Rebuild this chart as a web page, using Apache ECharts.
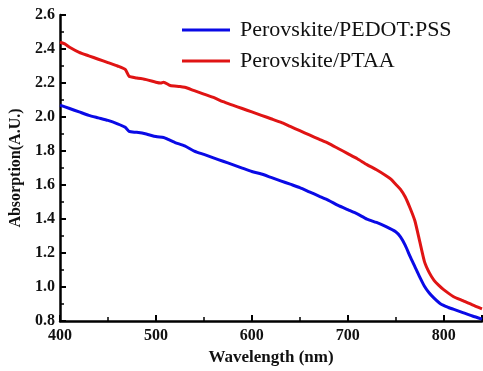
<!DOCTYPE html>
<html><head><meta charset="utf-8">
<script src="https://cdn.jsdelivr.net/npm/echarts@6/dist/echarts.min.js"></script>
<style>html,body{margin:0;padding:0;background:#fff}#c{width:483px;height:371px}</style>
</head><body><div id="c"></div>
<script>
const seriesNames = ['Perovskite/PEDOT:PSS', 'Perovskite/PTAA'];
const blueWl = [400,410,420,430,440,450,460,468,472,480,490,500,508,512,520,530,540,550,560,570,580,590,600,610,620,630,640,650,660,670,680,690,700,710,720,730,740,750,755,760,765,770,775,780,785,790,797,805,810,820,830,840];
const blueAbs = [2.07,2.05,2.03,2.01,1.995,1.98,1.96,1.94,1.915,1.91,1.90,1.885,1.88,1.87,1.85,1.83,1.80,1.78,1.76,1.74,1.72,1.70,1.68,1.665,1.645,1.625,1.605,1.585,1.56,1.535,1.51,1.48,1.455,1.43,1.40,1.38,1.355,1.325,1.295,1.245,1.18,1.12,1.06,1.005,0.965,0.935,0.90,0.88,0.87,0.85,0.83,0.812];
const redWl = [400,405,410,420,430,440,450,460,468,472,480,490,500,505,508,515,525,530,540,550,560,570,580,590,600,610,620,630,640,650,660,670,680,690,700,710,720,730,740,745,750,755,760,765,770,775,780,785,790,795,800,810,820,830,840];
const redAbs = [2.44,2.43,2.41,2.38,2.36,2.34,2.32,2.30,2.28,2.24,2.23,2.22,2.205,2.20,2.205,2.185,2.18,2.175,2.155,2.135,2.115,2.09,2.07,2.05,2.03,2.01,1.99,1.97,1.945,1.92,1.895,1.87,1.845,1.815,1.785,1.755,1.72,1.69,1.655,1.635,1.605,1.575,1.53,1.465,1.39,1.27,1.15,1.085,1.04,1.01,0.985,0.945,0.92,0.895,0.872];
const xTicks = [400,500,600,700,800];
const yTicks = [0.8,1.0,1.2,1.4,1.6,1.8,2.0,2.2,2.4,2.6];

const pair = (xs, ys) => xs.map((x, i) => [x, ys[i]]);
const font = '"Liberation Serif", "Times New Roman", serif';
const chart = echarts.init(document.getElementById('c'), null, {renderer: 'canvas'});
chart.setOption({
  animation: false,
  backgroundColor: '#fff',
  grid: {left: 60, right: 1, top: 15, bottom: 49, containLabel: false},
  legend: {
    orient: 'vertical', left: 177, top: 14, itemWidth: 48, itemHeight: 3, itemGap: 9,
    icon: 'rect',
    data: seriesNames,
    textStyle: {fontFamily: font, fontSize: 22, color: '#111', padding: [0,0,0,5], lineHeight: 22}
  },
  xAxis: {
    type: 'value', min: xTicks[0], max: 840, interval: 100,
    name: 'Wavelength (nm)', nameLocation: 'middle', nameGap: 26,
    nameTextStyle: {fontFamily: font, fontSize: 17, fontWeight: 'bold', color: '#111'},
    axisLine: {show: true, onZero: false, lineStyle: {color: '#000', width: 2.5}},
    axisTick: {show: true, inside: true, length: 6, lineStyle: {color: '#000', width: 2}},
    minorTick: {show: true, splitNumber: 2, length: 4, lineStyle: {color: '#000', width: 1.5}},
    axisLabel: {fontFamily: font, fontSize: 16, fontWeight: 'bold', color: '#111', margin: 7, showMaxLabel: false,
      formatter: v => xTicks.includes(v) ? String(v) : ''},
    splitLine: {show: false}
  },
  yAxis: {
    type: 'value', min: 0.8, max: 2.6, interval: 0.2,
    name: 'Absorption(A.U.)', nameLocation: 'middle', nameGap: 34, nameRotate: 90,
    nameTextStyle: {fontFamily: font, fontSize: 16, fontWeight: 'bold', color: '#111'},
    axisLine: {show: true, onZero: false, lineStyle: {color: '#000', width: 2.5}},
    axisTick: {show: true, inside: true, length: 6, lineStyle: {color: '#000', width: 2}},
    minorTick: {show: true, splitNumber: 2, length: 4, lineStyle: {color: '#000', width: 1.5}},
    axisLabel: {fontFamily: font, fontSize: 16, fontWeight: 'bold', color: '#111', margin: 5,
      formatter: v => v.toFixed(1)},
    splitLine: {show: false}
  },
  series: [
    {name: seriesNames[0], type: 'line', data: pair(blueWl, blueAbs), showSymbol: false, symbol: 'none',
      smooth: 0.2, lineStyle: {color: '#0a0ae6', width: 3}, itemStyle: {color: '#0a0ae6'}},
    {name: seriesNames[1], type: 'line', data: pair(redWl, redAbs), showSymbol: false, symbol: 'none',
      smooth: 0.2, lineStyle: {color: '#e01414', width: 3}, itemStyle: {color: '#e01414'}}
  ]
});
</script></body></html>
